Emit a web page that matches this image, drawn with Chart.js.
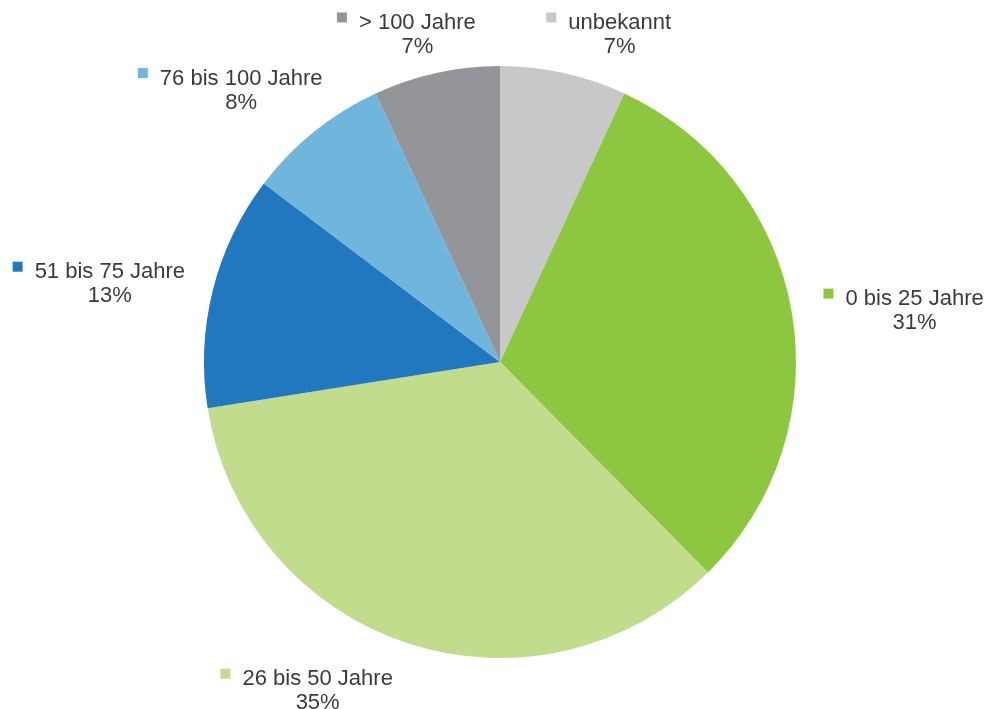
<!DOCTYPE html>
<html>
<head>
<meta charset="utf-8">
<script src="https://cdn.jsdelivr.net/npm/chart.js@4.4.1/dist/chart.umd.min.js"></script>
<style>
  html, body { margin: 0; padding: 0; background: #fff; }
  #wrap { width: 990px; height: 709px; position: relative; }
</style>
</head>
<body>
<div id="wrap"><canvas id="chart"></canvas></div>
<script>
// data, clockwise from 12 o'clock
const categories = ["unbekannt", "0 bis 25 Jahre", "26 bis 50 Jahre", "51 bis 75 Jahre", "76 bis 100 Jahre", "> 100 Jahre"];
const shares = [6.9, 30.7, 34.9, 12.8, 7.8, 6.9];
const sliceColors = ["#c7c8ca", "#8dc63f", "#c2dc8e", "#2278bf", "#6fb5dc", "#939598"];

// label placement relative to the rim point at the slice's middle angle (dx, dy of first baseline)
const labelOffsets = [[56, -44], [123, -6], [-90, 42], [-103, -12], [-73, -47], [-19, -44]];

const total = shares.reduce((a, b) => a + b, 0);

const outsideLabels = {
    id: "outsideLabels",
    afterDraw(chart) {
        const ctx = chart.ctx;
        const arcs = chart.getDatasetMeta(0).data;
        ctx.save();
        ctx.font = "22px 'Liberation Sans', Arial, sans-serif";
        ctx.fillStyle = "#3b3b3b";
        ctx.textAlign = "center";
        ctx.textBaseline = "alphabetic";
        arcs.forEach((arc, i) => {
            const p = arc.getProps(["x", "y", "startAngle", "endAngle", "outerRadius"], true);
            const mid = (p.startAngle + p.endAngle) / 2;
            const ax = p.x + Math.cos(mid) * p.outerRadius;
            const ay = p.y + Math.sin(mid) * p.outerRadius;
            const cx = ax + labelOffsets[i][0];
            const base = ay + labelOffsets[i][1];
            const name = categories[i];
            const pct = Math.round(shares[i] / total * 100) + "%";
            const w = ctx.measureText(name).width;

            ctx.fillStyle = sliceColors[i];
            ctx.fillRect(cx - w / 2 - 22, base - 16.5, 10, 10);
            ctx.fillStyle = "#3b3b3b";
            ctx.fillText(name, cx, base);
            ctx.fillText(pct, cx, base + 24);
        });
        ctx.restore();
    }
};

new Chart(document.getElementById("chart"), {
    type: "pie",
    data: {
        labels: categories,
        datasets: [{
            data: shares,
            backgroundColor: sliceColors,
            borderWidth: 0
        }]
    },
    options: {
        responsive: true,
        maintainAspectRatio: false,
        animation: false,
        layout: {
            padding: { top: 66, bottom: 51, left: 204, right: 194 }
        },
        plugins: {
            legend: { display: false },
            tooltip: { enabled: false }
        }
    },
    plugins: [outsideLabels]
});
</script>
</body>
</html>
